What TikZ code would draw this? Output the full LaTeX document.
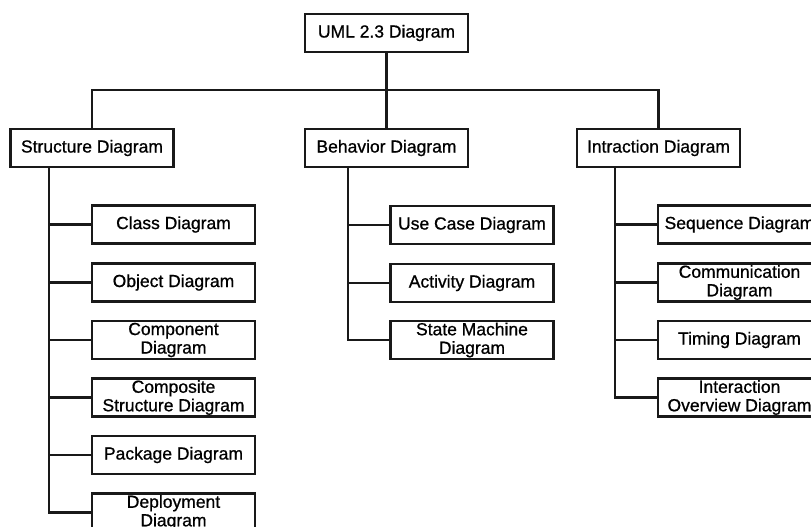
\documentclass[tikz,border=0pt]{standalone}
\usepackage{fontspec}
\setmainfont[FakeBold=0.8]{Liberation Sans}
\begin{document}
\begin{tikzpicture}[x=1pt,y=-1pt,
  box/.style={draw=black!90, line width=2.1pt, fill=white, rectangle, inner sep=0pt,
    minimum width=163pt, minimum height=38pt, align=center,
    font=\fontsize{17.5}{18.5}\selectfont},
  conn/.style={draw=black!90, line width=2.1pt}]
\useasboundingbox (0,0) rectangle (811,527);
\clip (0,0) rectangle (811,527);
% top level
\node[box] (uml) at (386.5,33) {UML 2.3 Diagram};
\node[box] (str) at (92,148) {Structure Diagram};
\node[box] (beh) at (386.5,148) {Behavior Diagram};
\node[box] (int) at (658.5,148) {Intraction Diagram};
\coordinate (bus) at (386.5,90);
\draw[conn] (uml.south) -- (beh.north);
\draw[conn] (str.north) |- (bus) -| (int.north);
% structure children
\node[box] (s1) at (173.5,224.5) {Class Diagram};
\node[box] (s2) at (173.5,282.5) {Object Diagram};
\node[box] (s3) at (173.5,340) {Component\\Diagram};
\node[box] (s4) at (173.5,397.5) {Composite\\Structure Diagram};
\node[box] (s5) at (173.5,455) {Package Diagram};
\node[box] (s6) at (173.5,512.5) {Deployment\\Diagram};
\coordinate (st) at (49,167);
\draw[conn] (st) |- (s6.west);
\foreach \n in {s1,s2,s3,s4,s5} \draw[conn] (\n.west -| st) -- (\n.west);
% behavior children
\node[box] (b1) at (472,225) {Use Case Diagram};
\node[box] (b2) at (472,283) {Activity Diagram};
\node[box] (b3) at (472,340) {State Machine\\Diagram};
\coordinate (bt) at (348,167);
\draw[conn] (bt) |- (b3.west);
\foreach \n in {b1,b2} \draw[conn] (\n.west -| bt) -- (\n.west);
% interaction children
\node[box] (i1) at (739.5,224.5) {Sequence Diagram};
\node[box] (i2) at (739.5,282.5) {Communication\\Diagram};
\node[box] (i3) at (739.5,340) {Timing Diagram};
\node[box] (i4) at (739.5,397.5) {Interaction\\Overview Diagram};
\coordinate (it) at (615,167);
\draw[conn] (it) |- (i4.west);
\foreach \n in {i1,i2,i3} \draw[conn] (\n.west -| it) -- (\n.west);
\end{tikzpicture}
\end{document}
